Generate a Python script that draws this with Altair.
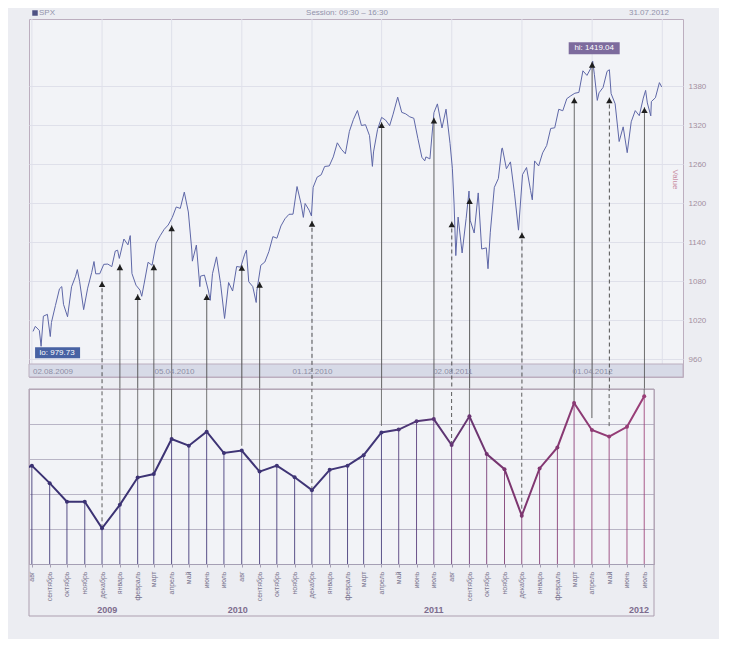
import altair as alt
import pandas as pd

# ---------------- upper panel: SPX close ----------------
spx_2009_dates = ["2009-08-03", "2009-08-07", "2009-08-14", "2009-08-17", "2009-08-21", "2009-08-28",
                  "2009-09-02", "2009-09-04", "2009-09-11", "2009-09-18", "2009-09-22", "2009-09-25",
                  "2009-10-02", "2009-10-09", "2009-10-16", "2009-10-19", "2009-10-23", "2009-10-30",
                  "2009-11-06", "2009-11-13", "2009-11-17", "2009-11-20", "2009-11-27",
                  "2009-12-04", "2009-12-11", "2009-12-18", "2009-12-24", "2009-12-28", "2009-12-31"]
spx_2009_close = [1002.63, 1010.48, 1004.09, 979.73, 1026.13, 1028.93,
                  994.75, 1016.40, 1042.73, 1068.30, 1071.66, 1044.38,
                  1025.21, 1071.49, 1087.68, 1097.91, 1079.60, 1036.19,
                  1069.30, 1093.48, 1110.32, 1091.38, 1091.49,
                  1105.98, 1106.41, 1102.47, 1126.48, 1127.78, 1115.10]

spx_2010_dates = ["2010-01-08", "2010-01-15", "2010-01-19", "2010-01-22", "2010-01-29",
                  "2010-02-05", "2010-02-08", "2010-02-12", "2010-02-19", "2010-02-26",
                  "2010-03-05", "2010-03-12", "2010-03-19", "2010-03-26",
                  "2010-04-02", "2010-04-09", "2010-04-16", "2010-04-23", "2010-04-30",
                  "2010-05-06", "2010-05-07", "2010-05-14", "2010-05-20", "2010-05-21", "2010-05-28",
                  "2010-06-04", "2010-06-07", "2010-06-11", "2010-06-18", "2010-06-25",
                  "2010-07-02", "2010-07-09", "2010-07-16", "2010-07-23", "2010-07-30",
                  "2010-08-06", "2010-08-09", "2010-08-13", "2010-08-20", "2010-08-26", "2010-08-27",
                  "2010-09-03", "2010-09-10", "2010-09-17", "2010-09-24",
                  "2010-10-01", "2010-10-08", "2010-10-15", "2010-10-22", "2010-10-29",
                  "2010-11-05", "2010-11-12", "2010-11-16", "2010-11-19", "2010-11-26", "2010-11-30",
                  "2010-12-03", "2010-12-10", "2010-12-17", "2010-12-23", "2010-12-31"]
spx_2010_close = [1144.98, 1136.03, 1150.23, 1091.76, 1073.87,
                  1066.19, 1056.74, 1075.51, 1109.17, 1104.49,
                  1138.70, 1149.99, 1159.90, 1166.59,
                  1178.10, 1194.37, 1192.13, 1217.28, 1186.69,
                  1128.15, 1110.88, 1135.68, 1071.59, 1087.69, 1089.41,
                  1064.88, 1050.47, 1091.60, 1117.51, 1076.76,
                  1022.58, 1077.96, 1064.88, 1102.66, 1101.60,
                  1121.64, 1127.79, 1079.25, 1071.69, 1047.22, 1064.59,
                  1104.51, 1109.55, 1125.59, 1148.67,
                  1146.24, 1165.15, 1176.19, 1183.08, 1183.26,
                  1225.85, 1199.21, 1178.34, 1199.73, 1189.40, 1180.55,
                  1224.71, 1240.40, 1243.91, 1256.77, 1257.64]

spx_2011_dates = ["2011-01-07", "2011-01-14", "2011-01-21", "2011-01-28",
                  "2011-02-04", "2011-02-11", "2011-02-18", "2011-02-25",
                  "2011-03-04", "2011-03-11", "2011-03-16", "2011-03-18", "2011-03-25",
                  "2011-04-01", "2011-04-08", "2011-04-15", "2011-04-21", "2011-04-29",
                  "2011-05-06", "2011-05-13", "2011-05-20", "2011-05-27",
                  "2011-06-03", "2011-06-10", "2011-06-15", "2011-06-17", "2011-06-24",
                  "2011-07-01", "2011-07-07", "2011-07-15", "2011-07-22", "2011-07-29",
                  "2011-08-02", "2011-08-05", "2011-08-08", "2011-08-12", "2011-08-19", "2011-08-26", "2011-08-31",
                  "2011-09-02", "2011-09-09", "2011-09-16", "2011-09-22", "2011-09-30",
                  "2011-10-03", "2011-10-07", "2011-10-14", "2011-10-21", "2011-10-27", "2011-10-28",
                  "2011-11-04", "2011-11-11", "2011-11-18", "2011-11-25",
                  "2011-12-02", "2011-12-09", "2011-12-16", "2011-12-19", "2011-12-23", "2011-12-30"]
spx_2011_close = [1271.50, 1293.24, 1283.35, 1276.34,
                  1310.87, 1329.15, 1343.01, 1319.88,
                  1321.15, 1304.28, 1256.88, 1279.20, 1313.80,
                  1332.41, 1328.17, 1319.68, 1337.38, 1363.61,
                  1340.20, 1337.77, 1333.27, 1331.10,
                  1300.16, 1270.98, 1265.42, 1271.50, 1268.45,
                  1339.67, 1353.22, 1316.14, 1345.02, 1292.28,
                  1254.05, 1199.38, 1119.46, 1178.81, 1123.53, 1176.80, 1218.89,
                  1173.97, 1154.23, 1216.01, 1129.56, 1131.42,
                  1099.23, 1155.46, 1224.58, 1238.25, 1284.59, 1285.09,
                  1253.23, 1263.85, 1215.65, 1158.67,
                  1244.28, 1255.19, 1219.66, 1205.35, 1265.33, 1257.60]

spx_2012_dates = ["2012-01-06", "2012-01-13", "2012-01-20", "2012-01-27",
                  "2012-02-03", "2012-02-10", "2012-02-17", "2012-02-24",
                  "2012-03-02", "2012-03-09", "2012-03-16", "2012-03-23", "2012-03-30",
                  "2012-04-02", "2012-04-05", "2012-04-10", "2012-04-13", "2012-04-20", "2012-04-27",
                  "2012-05-01", "2012-05-04", "2012-05-11", "2012-05-18", "2012-05-25",
                  "2012-06-01", "2012-06-08", "2012-06-15", "2012-06-22", "2012-06-29",
                  "2012-07-03", "2012-07-06", "2012-07-12", "2012-07-13", "2012-07-20", "2012-07-27", "2012-07-31"]
spx_2012_close = [1277.81, 1289.09, 1315.38, 1316.33,
                  1344.90, 1342.64, 1361.23, 1365.74,
                  1369.63, 1370.87, 1404.17, 1397.11, 1408.47,
                  1419.04, 1398.08, 1358.59, 1370.26, 1378.53, 1403.36,
                  1405.82, 1369.10, 1353.39, 1295.22, 1317.82,
                  1278.04, 1325.66, 1342.84, 1335.02, 1362.16,
                  1374.02, 1354.68, 1334.76, 1356.78, 1362.66, 1385.97, 1379.32]

price_ticks = [960, 1020, 1080, 1140, 1200, 1260, 1320, 1380]
date_ticks = ["2009-08-02", "2010-04-05", "2010-12-01", "2011-08-02", "2012-04-01"]
grid_dates = ["2009-08-01", "2009-12-01", "2010-04-01", "2010-08-01", "2010-12-01",
              "2011-04-01", "2011-08-01", "2011-12-01", "2012-04-01", "2012-08-01"]

low_date, low_value, low_text = "2009-08-17", 979.73, "lo: 979.73"
high_date, high_value, high_text = "2012-04-02", 1419.04, "hi: 1419.04"

hdr_symbol = "SPX"
hdr_session = "Session: 09:30 – 16:30"
hdr_date = "31.07.2012"
y_title = "Value"

# ---------------- lower panel: monthly indicator ----------------
months = ["2009-07-01", "2009-08-01", "2009-09-01", "2009-10-01", "2009-11-01", "2009-12-01",
          "2010-01-01", "2010-02-01", "2010-03-01", "2010-04-01", "2010-05-01", "2010-06-01",
          "2010-07-01", "2010-08-01", "2010-09-01", "2010-10-01", "2010-11-01", "2010-12-01",
          "2011-01-01", "2011-02-01", "2011-03-01", "2011-04-01", "2011-05-01", "2011-06-01",
          "2011-07-01", "2011-08-01", "2011-09-01", "2011-10-01", "2011-11-01", "2011-12-01",
          "2012-01-01", "2012-02-01", "2012-03-01", "2012-04-01", "2012-05-01", "2012-06-01",
          "2012-07-01"]
indicator = [2.58, 2.81, 2.31, 1.78, 1.78, 1.02, 1.69,
             2.47, 2.57, 3.57, 3.38, 3.78, 3.17,
             3.24, 2.64, 2.81, 2.48, 2.11, 2.69,
             2.81, 3.11, 3.76, 3.84, 4.08, 4.14,
             3.40, 4.22, 3.14, 2.71, 1.38, 2.73,
             3.33, 4.60, 3.83, 3.64, 3.92, 4.79]
month_names = ["январь", "февраль", "март", "апрель", "май", "июнь",
               "июль", "авг", "сентябрь", "октябрь", "ноябрь", "декабрь"]
years = ["2009", "2010", "2011", "2012"]
year_anchor = ["2009-12-10", "2010-07-25", "2011-07-01", "2012-06-22"]

# arrows linking months to the price chart
arrow_dates = ["2009-12-01", "2010-01-01", "2010-02-01", "2010-03-01", "2010-04-01", "2010-06-01",
               "2010-08-01", "2010-09-01", "2010-12-01", "2011-04-01", "2011-07-01", "2011-08-01",
               "2011-09-01", "2011-12-01", "2012-03-01", "2012-04-01", "2012-05-01", "2012-07-01"]
arrow_tip = [1080, 1106, 1060, 1106, 1166, 1060, 1105, 1079, 1173,
             1325, 1332, 1172, 1208, 1155, 1363, 1418, 1363, 1348]
arrow_base = [1.02, 1.69, 2.47, 2.57, 3.57, 3.78, 3.38, 2.64, 2.11,
              3.95, 4.14, 3.40, 4.22, 1.38, 4.60, 4.17, 3.94, 4.79]
arrow_style = ["dashed", "solid", "solid", "solid", "solid", "solid", "solid", "solid", "dashed",
               "solid", "solid", "dashed", "solid", "dashed", "solid", "solid", "dashed", "solid"]

# ---------------- build ----------------
W1, H1 = 654, 358
W2, H2 = 625, 175
GAP = 12
FONT = "Liberation Sans"
HDR_Y = -6


def dt(s):
    y, m, d = (int(v) for v in s.split("-"))
    return alt.DateTime(year=y, month=m, date=d, utc=True)


one = pd.DataFrame({"k": [0]})
price_df = pd.DataFrame({
    "date": spx_2009_dates + spx_2010_dates + spx_2011_dates + spx_2012_dates,
    "close": spx_2009_close + spx_2010_close + spx_2011_close + spx_2012_close,
})
arrows_df = pd.DataFrame({"date": arrow_dates, "tip": arrow_tip, "base": arrow_base, "style": arrow_style})
ind_df = pd.DataFrame({"date": months, "val": indicator, "idx": list(range(-1, len(months) - 1))})
shown_df = ind_df[ind_df["idx"] >= 0]
year_df = pd.DataFrame({"date": year_anchor, "year": years})

dash = alt.StrokeDash("style:N", scale=alt.Scale(domain=["solid", "dashed"], range=[[1, 0], [4, 3]]), legend=None)

# ---- upper scales / axes (shared by every layer)
x_up = alt.Scale(type="utc", domain=[dt("2009-07-27"), dt("2012-09-06")])
y_up = alt.Scale(domain=[932.4, 1484.0], nice=False, zero=False)
ax_up_x = alt.Axis(values=[dt(d) for d in date_ticks], labelExpr="utcFormat(datum.value, '%d.%m.%Y')",
                   offset=-13, domain=False, ticks=False, grid=False, labelFontSize=8, labelColor="#8d8ea6",
                   labelPadding=3, labelFlush=8, labelOverlap=False, title=None, zindex=1)
ax_up_y = alt.Axis(orient="right", values=price_ticks, format="d", grid=True, gridColor="#dfe0ea",
                   domain=False, ticks=False, labelFontSize=8, labelColor="#a38f9f", labelPadding=5,
                   title=y_title, titleAngle=90, titleX=-9, titleY=160, titleFontSize=8, titleColor="#c98da2",
                   titleFontWeight="normal", titleAlign="center", titleBaseline="middle", labelOverlap=False)
XU = lambda: alt.X("date:T", scale=x_up, axis=ax_up_x)
YU = lambda f: alt.Y(f + ":Q", scale=y_up, axis=ax_up_y)

vgrid = alt.Chart(pd.DataFrame({"date": grid_dates})).mark_rule(color="#dfe0ea", strokeWidth=1).encode(
    x=XU(), y=alt.value(0), y2=alt.value(H1 - 13))

band = alt.Chart(one).mark_rect(fill="#d7dae7", stroke="#bcaebf", strokeWidth=1).encode(
    x=alt.value(0), x2=alt.value(W1), y=alt.value(H1 - 13), y2=alt.value(H1))

price = alt.Chart(price_df).mark_line(color="#5e67a7", strokeWidth=1).encode(x=XU(), y=YU("close"))

arr_up = alt.Chart(arrows_df).mark_rule(color="#505050", strokeWidth=1).encode(
    x=XU(), y=YU("tip"), y2=alt.value(H1 + GAP), strokeDash=dash)
heads = alt.Chart(arrows_df).mark_point(shape="triangle-up", filled=True, size=42, color="#1e1e1e",
                                        opacity=1, yOffset=3).encode(x=XU(), y=YU("tip"))

low_df = pd.DataFrame({"date": [low_date], "close": [low_value], "t": [low_text]})
high_df = pd.DataFrame({"date": [high_date], "close": [high_value], "t": [high_text]})
low_box = alt.Chart(low_df).mark_rect(color="#4862a3", xOffset=-6, x2Offset=39, yOffset=1, y2Offset=12).encode(
    x=XU(), x2="date:T", y=YU("close"), y2="close:Q")
low_txt = alt.Chart(low_df).mark_text(color="white", fontSize=8, dx=16, dy=6.5, baseline="middle").encode(
    x=XU(), y=YU("close"), text="t:N")
high_box = alt.Chart(high_df).mark_rect(color="#7d6b9d", xOffset=-24, x2Offset=27, yOffset=-19, y2Offset=-7).encode(
    x=XU(), x2="date:T", y=YU("close"), y2="close:Q")
high_txt = alt.Chart(high_df).mark_text(color="white", fontSize=8, dx=1.5, dy=-13, baseline="middle").encode(
    x=XU(), y=YU("close"), text="t:N")

hdr_sq = alt.Chart(one).mark_point(shape="square", filled=True, size=30, color="#4f5283", opacity=1).encode(
    x=alt.value(6), y=alt.value(HDR_Y))
hdr_1 = alt.Chart(one).mark_text(align="left", baseline="middle", fontSize=8, color="#9293ab").encode(
    x=alt.value(10), y=alt.value(HDR_Y), text=alt.value(hdr_symbol))
hdr_2 = alt.Chart(one).mark_text(align="center", baseline="middle", fontSize=8, color="#9293ab").encode(
    x=alt.value(318), y=alt.value(HDR_Y), text=alt.value(hdr_session))
hdr_3 = alt.Chart(one).mark_text(align="right", baseline="middle", fontSize=8, color="#9293ab").encode(
    x=alt.value(640), y=alt.value(HDR_Y), text=alt.value(hdr_date))

upper = alt.layer(vgrid, band, price, arr_up, heads, low_box, low_txt, high_box, high_txt,
                  hdr_sq, hdr_1, hdr_2, hdr_3).properties(width=W1, height=H1)

# ---- lower scales / axes
x_lo = alt.Scale(type="utc", domain=[dt("2009-07-27"), dt("2012-07-18")])
y_lo = alt.Scale(domain=[0, 5], nice=False)
cscale = alt.Scale(domain=[0, 20, 27, 35], range=["#3a3172", "#413677", "#7a356f", "#9b3f78"])
label_expr = "[" + ",".join("'%s'" % n for n in month_names) + "][utcmonth(datum.value)]"
ax_lo_x = alt.Axis(values=[dt(m) for m in months[1:]], labelExpr=label_expr, labelAngle=270, labelAlign="right",
                   labelBaseline="middle", labelFontSize=7, labelColor="#75708a", labelPadding=4, tickSize=3,
                   tickColor="#a59fb4", domainColor="#a59fb4", grid=False, title=None, labelOverlap=False,
                   labelBound=False, labelFlush=False)
ax_lo_y = alt.Axis(values=[1, 2, 3, 4], grid=True, gridColor="#b9b5c6", labels=False, ticks=False,
                   domain=False, title=None)
XL = lambda: alt.X("date:T", scale=x_lo, axis=ax_lo_x)
YL = lambda f: alt.Y(f + ":Q", scale=y_lo, axis=ax_lo_y)

frame = alt.Chart(one).mark_rect(filled=False, stroke="#ad9fb0", strokeWidth=1).encode(
    x=alt.value(0), x2=alt.value(W2), y=alt.value(0), y2=alt.value(H2 + 52))

drops = alt.Chart(shown_df).mark_rule(strokeWidth=1, opacity=0.85).encode(
    x=XL(), y=YL("val"), y2=alt.value(H2), color=alt.Color("idx:Q", scale=cscale, legend=None))

arr_lo = alt.Chart(arrows_df).mark_rule(color="#5c5c5c", strokeWidth=1).encode(
    x=XL(), y=YL("base"), y2=alt.value(0), strokeDash=dash)

grad = alt.LinearGradient(gradient="linear", x1=0, x2=1, y1=0, y2=0, stops=[
    alt.GradientStop(color="#3a3172", offset=0),
    alt.GradientStop(color="#413677", offset=0.58),
    alt.GradientStop(color="#7a356f", offset=0.78),
    alt.GradientStop(color="#9b3f78", offset=1),
])
ind_line = alt.Chart(ind_df).mark_line(stroke=grad, strokeWidth=2, clip=True).encode(x=XL(), y=YL("val"))
ind_pts = alt.Chart(shown_df).mark_circle(size=16, opacity=1).encode(
    x=XL(), y=YL("val"), color=alt.Color("idx:Q", scale=cscale, legend=None))

year_txt = alt.Chart(year_df).mark_text(fontSize=9, fontWeight="bold", color="#7d6c8e", baseline="middle").encode(
    x=XL(), y=alt.value(H2 + 46), text="year:N")

lower = alt.layer(frame, drops, arr_lo, ind_line, ind_pts, year_txt).properties(width=W2, height=H2)

chart = alt.vconcat(upper, lower, spacing=GAP, bounds="flush").properties(
    padding={"left": 19, "top": 0, "right": 12, "bottom": 22}
).configure(background="#ecedf2", font=FONT).configure_axis(labelOverlap=False).configure_view(
    fill="#f2f3f7", stroke="#bcaebf", strokeWidth=1)

chart.save("out.html", embed_options={"renderer": "svg", "actions": False})
